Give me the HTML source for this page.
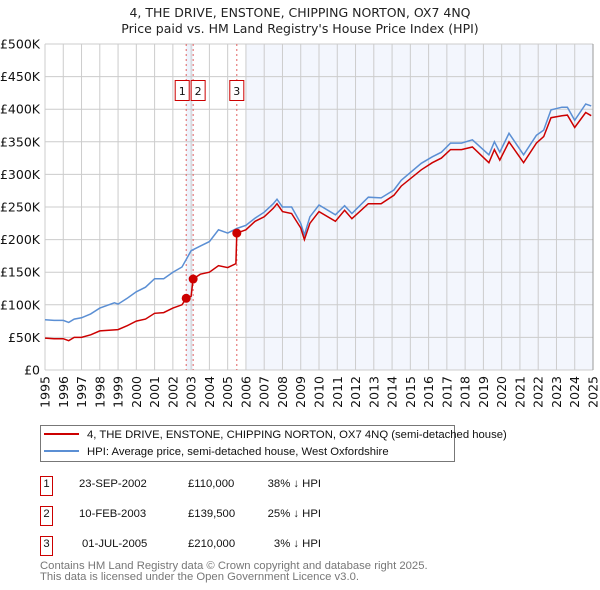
<!DOCTYPE html>
<html><head><meta charset="utf-8"><style>
body{margin:0;background:#fff;font-family:"Liberation Sans","DejaVu Sans",sans-serif;}
svg{display:block}
</style></head><body>
<svg id="c" width="600" height="590" viewBox="0 0 600 590" xmlns="http://www.w3.org/2000/svg" font-family="'DejaVu Sans','Liberation Sans',sans-serif">
<text x="300" y="17" text-anchor="middle" font-size="12.5" fill="#222">4, THE DRIVE, ENSTONE, CHIPPING NORTON, OX7 4NQ</text>
<text x="300" y="33" text-anchor="middle" font-size="12.5" fill="#222">Price paid vs. HM Land Registry's House Price Index (HPI)</text>
<g id="plot"></g>
<g font-family="'Liberation Sans',sans-serif">
<rect x="40.5" y="425.5" width="414" height="36" fill="#fff" stroke="#777"/>
<line x1="44" y1="434" x2="79" y2="434" stroke="#cc0000" stroke-width="2"/>
<text x="87" y="438" font-size="11.3" fill="#111">4, THE DRIVE, ENSTONE, CHIPPING NORTON, OX7 4NQ (semi-detached house)</text>
<line x1="44" y1="451" x2="79" y2="451" stroke="#5b8fd4" stroke-width="2"/>
<text x="87" y="455" font-size="11.3" fill="#111">HPI: Average price, semi-detached house, West Oxfordshire</text>
</g>
<g font-size="11.3" fill="#111" font-family="'Liberation Sans',sans-serif">
<rect x="40.5" y="476.5" width="12" height="19" fill="none" stroke="#cc0000"/><text x="46.5" y="487" text-anchor="middle">1</text>
<text x="79" y="487">23-SEP-2002</text><text x="188" y="487">£110,000</text><text x="321" y="487" text-anchor="end">38% ↓ HPI</text>
<rect x="40.5" y="506.5" width="12" height="19" fill="none" stroke="#cc0000"/><text x="46.5" y="517" text-anchor="middle">2</text>
<text x="79" y="517">10-FEB-2003</text><text x="188" y="517">£139,500</text><text x="321" y="517" text-anchor="end">25% ↓ HPI</text>
<rect x="40.5" y="536.5" width="12" height="19" fill="none" stroke="#cc0000"/><text x="46.5" y="547" text-anchor="middle">3</text>
<text x="82" y="547">01-JUL-2005</text><text x="188" y="547">£210,000</text><text x="321" y="547" text-anchor="end">3% ↓ HPI</text>
</g>
<text x="40" y="569" font-size="11.3" fill="#777" font-family="'Liberation Sans',sans-serif">Contains HM Land Registry data © Crown copyright and database right 2025.</text>
<text x="40" y="580" font-size="11.3" fill="#777" font-family="'Liberation Sans',sans-serif">This data is licensed under the Open Government Licence v3.0.</text>
</svg>
<script>
const hpiYears=[1995,1995.5,1996,1996.3,1996.6,1997,1997.5,1998,1998.8,1999,1999.5,2000,2000.5,2001,2001.5,2002,2002.5,2003,2003.5,2004,2004.5,2005,2005.5,2006,2006.5,2007,2007.5,2007.7,2008,2008.5,2009,2009.2,2009.5,2010,2010.9,2011.4,2011.8,2012.7,2013.4,2014.1,2014.5,2015.6,2016.2,2016.7,2017.2,2017.8,2018.4,2019.3,2019.6,2019.9,2020.4,2021.2,2021.9,2022.3,2022.7,2023.3,2023.6,2024.0,2024.6,2024.9];
const hpiValues=[77,76,76,73,78,80,86,95,103,101,110,120,127,140,140,150,158,183,190,197,215,210,217,222,233,242,255,262,250,250,225,207,235,253,238,252,240,265,264,276,291,317,327,334,348,348,353,330,350,334,363,330,360,368,399,403,403,383,408,405];
const priceYears=[1995,1995.5,1996,1996.3,1996.6,1997,1997.5,1998,1999,1999.5,2000,2000.5,2001,2001.5,2002,2002.5,2002.73,2003.0,2003.11,2003.5,2004,2004.5,2005,2005.45,2005.5,2006,2006.5,2007,2007.5,2007.7,2008,2008.5,2009,2009.2,2009.5,2010,2010.9,2011.4,2011.8,2012.7,2013.4,2014.1,2014.5,2015.6,2016.2,2016.7,2017.2,2017.8,2018.4,2019.3,2019.6,2019.9,2020.4,2021.2,2021.9,2022.3,2022.7,2023.3,2023.6,2024.0,2024.6,2024.9];
const priceValues=[49,48,48,45,50,50,54,60,62,68,75,78,87,88,95,100,110,113,139.5,147,150,160,157,163,210,215,228,235,248,255,243,240,218,200,225,243,228,245,232,255,255,268,282,307,318,325,338,338,342,318,338,322,350,318,348,358,387,390,391,372,395,390];
const saleYears=[2002.73,2003.11,2005.5];
const saleValues=[110,139.5,210];
const saleLabels=["1","2","3"];
const yTicks=[0,50,100,150,200,250,300,350,400,450,500];
const yTickLabels=["£0","£50K","£100K","£150K","£200K","£250K","£300K","£350K","£400K","£450K","£500K"];
const xTicks=[1995,1996,1997,1998,1999,2000,2001,2002,2003,2004,2005,2006,2007,2008,2009,2010,2011,2012,2013,2014,2015,2016,2017,2018,2019,2020,2021,2022,2023,2024,2025];

const X0=45,X1=593,Y0=370,Y1=44;
const sx=y=>X0+(y-1995)/30*(X1-X0);
const sy=v=>Y0-v/500*(Y0-Y1);
const NS="http://www.w3.org/2000/svg";
const g=document.getElementById('plot');
function mk(t,a){const e=document.createElementNS(NS,t);for(const k in a)e.setAttribute(k,a[k]);g.appendChild(e);return e;}
let e;
e=mk('rect',{x:sx(saleYears[0]),y:Y1,width:sx(saleYears[1])-sx(saleYears[0]),height:Y0-Y1,fill:'#eef3fc'});


e=mk('rect',{x:sx(2006),y:Y1,width:X1-sx(2006),height:Y0-Y1,fill:'#f3f6fd'});


yTicks.forEach((v,i)=>{
 e=mk('line',{x1:X0,x2:X1,y1:sy(v),y2:sy(v),stroke:'#ccc','stroke-width':1});
 
 
 e=mk('text',{x:X0-5,y:sy(v)+4.5,'text-anchor':'end','font-size':12.5,fill:'#111'});
 e.textContent=yTickLabels[i];
 
 
});
xTicks.forEach(yr=>{
 e=mk('line',{x1:sx(yr),x2:sx(yr),y1:Y1,y2:Y0,stroke:'#ccc','stroke-width':1});
 
 
 e=mk('text',{x:0,y:0,'text-anchor':'end','font-size':12.5,fill:'#111',transform:`translate(${sx(yr)+4.5},376) rotate(-90)`});
 e.textContent=yr;
 
 
});
saleYears.forEach(yr=>{
 e=mk('line',{x1:sx(yr),x2:sx(yr),y1:Y1,y2:Y0,stroke:'#e06060','stroke-width':1,'stroke-dasharray':'2,3'});
 
 
});
const pts=(xs,vs)=>xs.map((x,i)=>sx(x).toFixed(1)+','+sy(vs[i]).toFixed(1)).join(' ');
e=mk('polyline',{points:pts(hpiYears,hpiValues),fill:'none',stroke:'#5b8fd4','stroke-width':1.5});


e=mk('polyline',{points:pts(priceYears,priceValues),fill:'none',stroke:'#cc0000','stroke-width':1.5});


saleYears.forEach((yr,i)=>{
 e=mk('circle',{cx:sx(yr),cy:sy(saleValues[i]),r:4.5,fill:'#cc0000'});
 
 
 const bx=sx(yr)-(i===1?2:7);
 e=mk('rect',{x:bx-(i===0?4:0),y:80.5,width:14,height:20,fill:'#fff',stroke:'#cc0000'});
 
 
 e=mk('text',{x:bx-(i===0?4:0)+7,y:95,'text-anchor':'middle','font-size':11,fill:'#111'});
 e.textContent=saleLabels[i];
 
 
});
e=mk('line',{x1:X1,x2:X1,y1:Y1,y2:Y0,stroke:'#999','stroke-width':1});


</script>
</body></html>
